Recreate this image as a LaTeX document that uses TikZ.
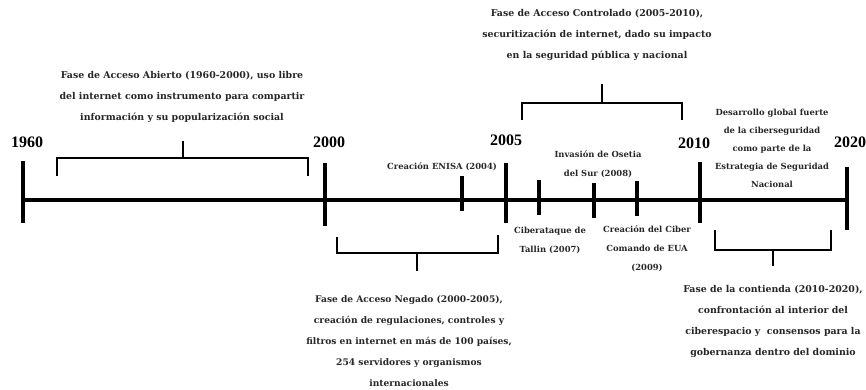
\documentclass[tikz,border=0pt]{standalone}
\usepackage{fontspec}
\setmainfont{DejaVu Serif}
\newfontfamily\cifras{Liberation Serif}
\usepackage{tikz}

\begin{document}
\begin{tikzpicture}[x=1pt,y=-1pt,
            linea/.style={line width=3.4pt},
            marca/.style={line width=3.4pt},
            llave/.style={line width=2.8pt},
            anio/.style={inner sep=0pt, font=\cifras\bfseries\fontsize{16}{18}\selectfont},
            fase/.style={align=center, inner sep=0pt, text=black!85, font=\bfseries\fontsize{9.4}{21}\selectfont},
            evento/.style={align=center, inner sep=0pt, text=black!85, font=\bfseries\fontsize{8.4}{19}\selectfont}]
            \useasboundingbox (0,0) rectangle (866,389);

            % eje principal
            \draw[linea] (22,200) -- (848,200);
            \draw[marca] (23,161) -- (23,223);
            \draw[marca] (325,163) -- (325,226);
            \draw[marca] (506,163) -- (506,223);
            \draw[marca] (462,176) -- (462,211);
            \draw[marca] (539,180) -- (539,215);
            \draw[marca] (594,183) -- (594,218);
            \draw[marca] (637,181) -- (637,216);
            \draw[marca] (700,162) -- (700,223);
            \draw[marca] (847,167) -- (847,230);

            % anios
            \node[anio] (a1960) at (27,142)  {1960};
            \node[anio] (a2000) at (329,142) {2000};
            \node[anio] (a2005) at (506,140) {2005};
            \node[anio] (a2010) at (694,143) {2010};
            \node[anio] (a2020) at (850,142) {2020};

            % llaves
            \draw[llave] (57,176) -- (57,158) -- (308,158) -- (308,176);
            \draw[llave] (183,158) -- (183,141);
            \draw[llave] (522,120) -- (522,103) -- (682,103) -- (682,120);
            \draw[llave] (602,103) -- (602,84);
            \draw[llave] (337,237) -- (337,253) -- (498,253) -- (498,235);
            \draw[llave] (417,253) -- (417,271);
            \draw[llave] (715,230) -- (715,250) -- (831,250) -- (831,230);
            \draw[llave] (773,250) -- (773,266);

            % fases
            \node[fase] (abierto) at (182,97)
                {Fase de Acceso Abierto (1960-2000), uso libre\\del internet como instrumento para compartir\\informaci\'on y su popularizaci\'on social};
            \node[fase] (controlado) at (597,35)
                {Fase de Acceso Controlado (2005-2010),\\securitizaci\'on de internet, dado su impacto\\en la seguridad p\'ublica y nacional};
            \node[fase, font=\bfseries\fontsize{9.1}{21}\selectfont] (negado) at (409,341)
                {Fase de Acceso Negado (2000-2005),\\creaci\'on de regulaciones, controles y\\filtros en internet en m\'as de 100 pa\'ises,\\254 servidores y organismos\\internacionales};
            \node[fase] (contienda) at (773,321)
                {Fase de la contienda (2010-2020),\\confrontaci\'on al interior del\\ciberespacio y \ consensos para la\\gobernanza dentro del dominio};

            % eventos
            \node[evento] (enisa)   at (442,167) {Creaci\'on ENISA (2004)};
            \node[evento] (osetia)  at (598,164) {Invasi\'on de Osetia\\del Sur (2008)};
            \node[evento] (tallin)  at (550,240) {Ciberataque de\\Tallin (2007)};
            \node[evento] (comando) at (647,249) {Creaci\'on del Ciber\\Comando de EUA\\(2009)};
            \node[evento, font=\bfseries\fontsize{8.4}{18}\selectfont] (desarrollo) at (772,148)
                {Desarrollo global fuerte\\de la ciberseguridad\\como parte de la\\Estrategia de Seguridad\\Nacional};
        \end{tikzpicture}
\end{document}
